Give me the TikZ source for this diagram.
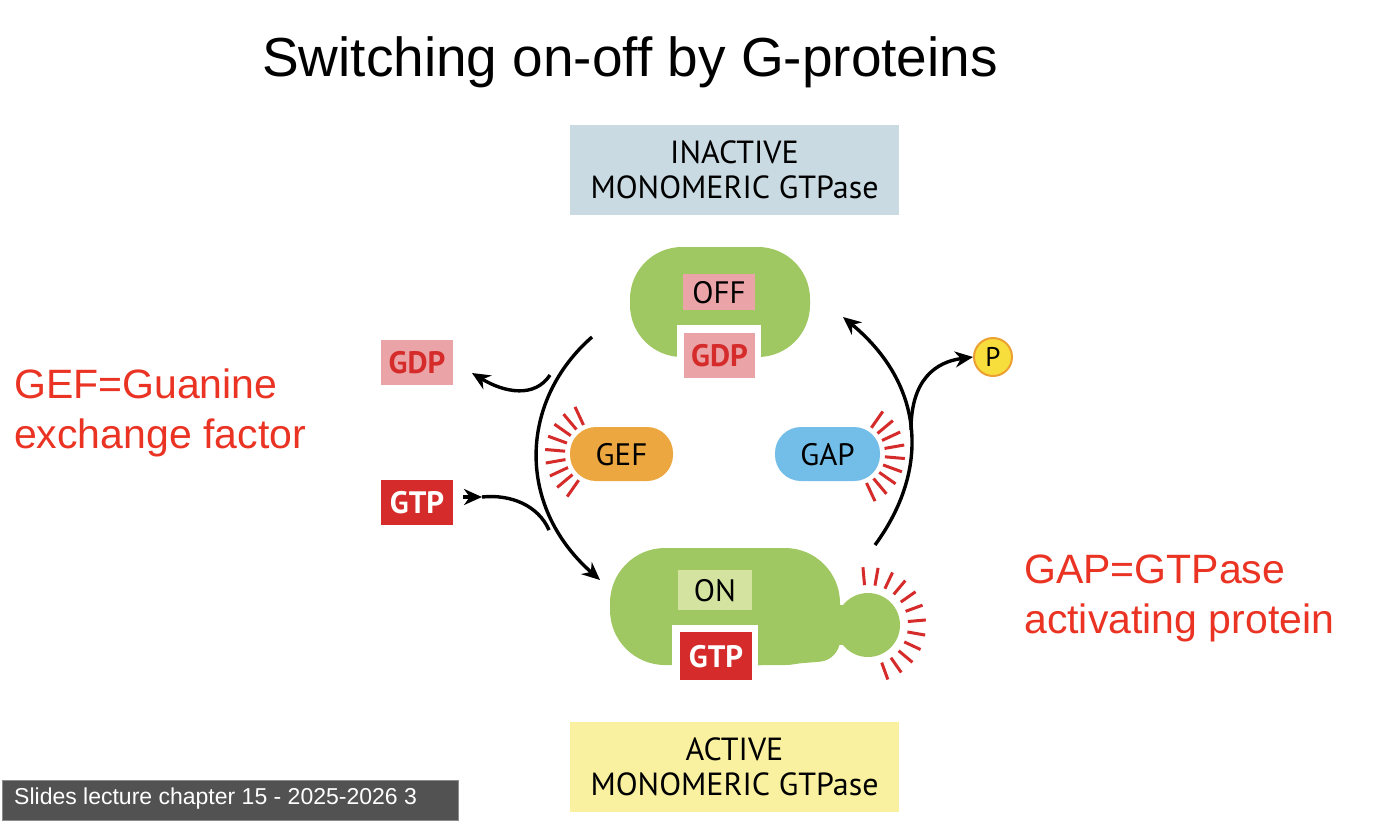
\documentclass[tikz,border=0pt]{standalone}
\usepackage{fontspec}
\setmainfont{Liberation Sans}
\newfontfamily\dfont{PT Sans}
\usetikzlibrary{arrows.meta,calc}
\definecolor{gr}{RGB}{160,200,98}
\definecolor{pk}{RGB}{234,164,167}
\definecolor{rd}{RGB}{213,43,42}
\definecolor{og}{RGB}{237,167,64}
\definecolor{bl}{RGB}{115,190,232}
\definecolor{lg}{RGB}{212,228,160}
\definecolor{ib}{RGB}{201,218,226}
\definecolor{ay}{RGB}{250,241,160}
\definecolor{tr}{RGB}{234,51,35}
\definecolor{py}{RGB}{248,222,60}
\definecolor{po}{RGB}{236,160,50}
\tikzset{
 lab/.style={font=\dfont\fontsize{31}{36}\selectfont,inner sep=0pt,minimum height=40pt,text depth=0pt},
 blab/.style={lab,font=\dfont\bfseries\fontsize{31}{36}\selectfont},
 conn/.style={line width=3.4pt,-{Stealth[length=18pt,width=16pt]}},
 spike/.style={rd,line width=3pt},
 red/.style={font=\fontsize{41}{50}\selectfont,text=tr,align=left,anchor=west,inner sep=0pt}
}
\begin{document}
\begin{tikzpicture}[x=1pt,y=-1pt]
\useasboundingbox (0,0) rectangle (1378,820);
\fill[white] (0,0) rectangle (1378,820);
\node (title) at (630,62) {\fontsize{55}{64}\selectfont Switching on-off by G-proteins};
% state boxes
\node[fill=ib,minimum width=329pt,minimum height=90pt,align=center,font=\dfont\fontsize{32}{35}\selectfont,inner sep=0pt] (inact) at (734.5,170) {INACTIVE\\MONOMERIC GTPase};
\node[fill=ay,minimum width=329pt,minimum height=90pt,align=center,font=\dfont\fontsize{32}{35}\selectfont,inner sep=0pt] (act) at (734.5,767) {ACTIVE\\MONOMERIC GTPase};
% OFF protein
\fill[gr,rounded corners=52pt] (630,247) rectangle (810,357);
\fill[white] (677,325) rectangle (761,382);
\node[blab,fill=pk,text=rd,minimum width=71pt,minimum height=45pt] (gdpoff) at (719.5,355.5) {GDP};
\node[lab,fill=pk,minimum width=72pt,minimum height=36pt] (off) at (719,292) {OFF};
% ON protein
\fill[gr] (868,625) circle (32pt);
\fill[gr] (820,605) rectangle (850,645);
\fill[gr,rounded corners=55pt] (610,548) rectangle (840,665);
\fill[gr,rounded corners=20pt] (700,548) -- (800,548) -- (840,600) -- (840,660) -- (780,665) -- (700,665) -- cycle;
\fill[white] (672,625) rectangle (758,684);
\node[blab,fill=rd,text=white,minimum width=72pt,minimum height=48pt] (gtpon) at (716,656) {GTP};
\node[lab,fill=lg,minimum width=74pt,minimum height=40pt] (on) at (715,590) {ON};
\foreach \a in {-70,-55,...,95} \draw[spike] ($(868,625)+(\a:40pt)$) -- ($(868,625)+(\a:58pt)$);
% GEF / GAP
\node[lab,fill=og,rounded corners=26pt,minimum width=103pt,minimum height=54pt] (gef) at (621.5,454) {GEF};
\foreach \a in {115,130,...,245} \draw[spike] ($(597,454)+(\a:32pt)$) -- ($(597,454)+(\a:52pt)$);
\node[lab,fill=bl,rounded corners=26pt,minimum width=105pt,minimum height=54pt] (gap) at (827.5,454) {GAP};
\foreach \a in {-65,-50,...,65} \draw[spike] ($(853,454)+(\a:32pt)$) -- ($(853,454)+(\a:52pt)$);
% free nucleotides
\node[blab,fill=pk,text=rd,minimum width=72pt,minimum height=45pt] (gdp) at (417,362) {GDP};
\node[blab,fill=rd,text=white,minimum width=72pt,minimum height=45pt] (gtp) at (417,502) {GTP};
\node[circle,fill=py,draw=po,line width=2pt,minimum size=38pt,inner sep=0pt,font=\dfont\fontsize{27}{30}\selectfont] (p) at (993,357) {P};
% connectors
\coordinate (ls) at (592,337);
\coordinate (le) at (600,580);
\coordinate (rs) at (875,545);
\coordinate (re) at (843,317);
\draw[conn] (ls) .. controls (520,400) and (515,505) .. (le);
\draw[conn] (rs) .. controls (930,470) and (925,385) .. (re);
\coordinate (bl) at (550,375);
\coordinate (gdpt) at (472,373);
\draw[conn] (bl) .. controls (535,398) and (505,393) .. (gdpt);
\coordinate (gtps) at (463,497);
\coordinate (gtpm) at (482,497);
\coordinate (gm) at (549,530);
\draw[conn] (gtps) -- (gtpm);
\draw[line width=3.4pt] (gtpm) .. controls (510,494) and (538,505) .. (gm);
\coordinate (pb) at (911,430);
\draw[conn] (pb) .. controls (911,380) and (935,362) .. (p.west);
% red labels
\node[red] (gefl) at (14,413) {GEF=Guanine\\exchange factor};
\node[red] (gapl) at (1024,598) {GAP=GTPase\\activating protein};
% tooltip
\node[fill=black!68,draw=black!45,anchor=north west,minimum width=456pt,minimum height=40pt,inner sep=0pt] (tip) at (2,780) {};
\node[anchor=west,text=white,font=\fontsize{23}{28}\selectfont,inner sep=0pt] (tiptext) at (14,799) {Slides lecture chapter 15 - 2025-2026 3};
\end{tikzpicture}
\end{document}
